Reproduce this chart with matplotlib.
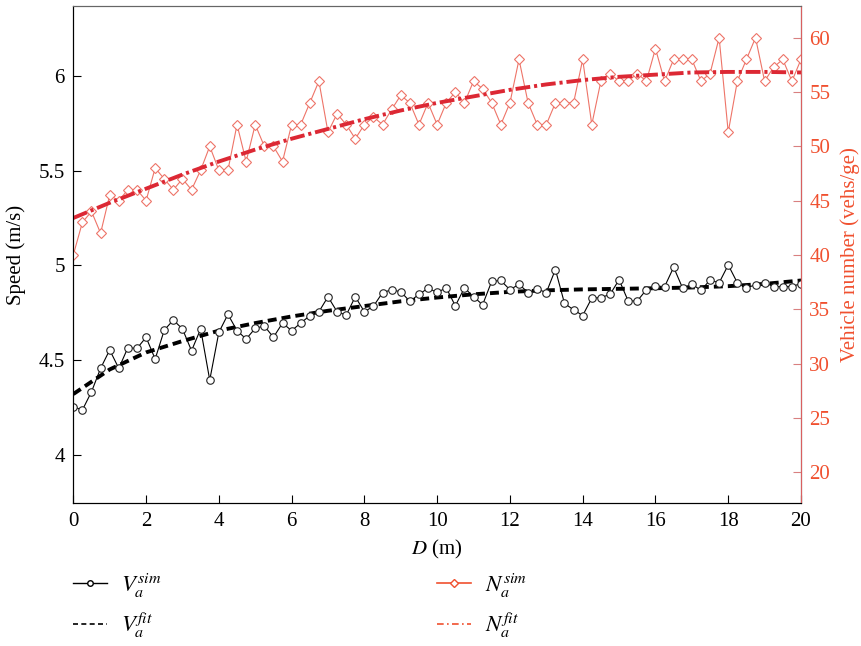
import numpy as np
import matplotlib
matplotlib.use("Agg")
import matplotlib.pyplot as plt
from matplotlib.lines import Line2D
from matplotlib.ticker import FuncFormatter

# distance D (m), one sample every 0.25 m
distance = np.arange(0, 20.001, 0.25)

# simulated average speed (m/s)
speed_sim = [4.253, 4.236, 4.332, 4.456, 4.553, 4.456, 4.565, 4.561, 4.620, 4.505,
             4.658, 4.711, 4.664, 4.549, 4.664, 4.394, 4.646, 4.741, 4.655, 4.611,
             4.667, 4.680, 4.620, 4.695, 4.655, 4.695, 4.734, 4.755, 4.834, 4.755,
             4.737, 4.834, 4.755, 4.784, 4.856, 4.871, 4.860, 4.810, 4.847, 4.879,
             4.857, 4.881, 4.786, 4.881, 4.834, 4.792, 4.916, 4.920, 4.871, 4.900,
             4.856, 4.875, 4.856, 4.978, 4.799, 4.765, 4.735, 4.827, 4.830, 4.846,
             4.924, 4.812, 4.812, 4.871, 4.892, 4.887, 4.990, 4.878, 4.901, 4.868,
             4.922, 4.908, 5.002, 4.908, 4.880, 4.898, 4.908, 4.888, 4.888, 4.888,
             4.904]

# simulated vehicle number (vehs/ge)
veh_sim = [40.0, 43.0, 44.0, 42.0, 45.5, 45.0, 46.0, 46.0, 45.0, 48.0,
           47.0, 46.0, 47.0, 46.0, 47.8, 50.0, 47.8, 47.8, 52.0, 48.6,
           52.0, 50.0, 50.0, 48.6, 52.0, 52.0, 54.0, 56.0, 51.3, 53.0,
           52.0, 50.7, 52.0, 52.7, 52.0, 53.4, 54.7, 54.0, 52.0, 54.0,
           52.0, 54.0, 55.0, 54.0, 56.0, 55.3, 54.0, 52.0, 54.0, 58.0,
           54.0, 52.0, 52.0, 54.0, 54.0, 54.0, 58.0, 52.0, 56.0, 56.7,
           56.0, 56.0, 56.7, 56.0, 59.0, 56.0, 58.0, 58.0, 58.0, 56.0,
           56.7, 60.0, 51.3, 56.0, 58.0, 60.0, 56.0, 57.3, 58.0, 56.0,
           58.0]

# fitted curves, read every 1 m
fit_d = list(range(0, 21))
speed_fit = [4.32, 4.45, 4.54, 4.60, 4.655, 4.695, 4.73, 4.76, 4.785, 4.81, 4.83,
             4.847, 4.86, 4.868, 4.873, 4.876, 4.879, 4.883, 4.89, 4.902, 4.92]
veh_fit = [43.4, 44.8, 46.1, 47.4, 48.6, 49.7, 50.7, 51.6, 52.5, 53.3, 54.0,
           54.6, 55.2, 55.7, 56.1, 56.4, 56.6, 56.8, 56.85, 56.85, 56.8]

red_txt = '#f0502f'
red_line = '#ee7468'
red_fit = '#dc2834'

plt.rcParams['font.family'] = ['Liberation Serif', 'DejaVu Serif']
plt.rcParams['mathtext.fontset'] = 'stix'

fig = plt.figure(figsize=(8.62, 6.46), dpi=100)
ax = fig.add_axes([73.3 / 862, 1 - 503.3 / 646, (801 - 73.3) / 862, (503.3 - 6) / 646])

ax.plot(fit_d, speed_fit, color='black', lw=2.8, dashes=(2.3, 1.3), zorder=2)
ax.plot(distance, speed_sim, color='black', lw=0.8, marker='o', ms=5.4,
        mfc='white', mec='#222222', mew=0.8, zorder=3)

ax.set_xlim(0, 20)
ax.set_ylim(3.743, 6.37)
ax.set_xticks(range(0, 21, 2))
ax.set_yticks([4, 4.5, 5, 5.5, 6])
ax.yaxis.set_major_formatter(FuncFormatter(lambda v, p: '%g' % v))
ax.tick_params(direction='in', length=6, width=0.8, labelsize=15, pad=6)
ax.set_xlabel(r'$D$ (m)', fontsize=15, labelpad=5)
ax.set_ylabel('Speed (m/s)', fontsize=15, labelpad=9)
ax.spines['top'].set_color('#666666')

ax2 = ax.twinx()
ax2.plot(distance, veh_sim, color=red_line, lw=0.8, marker='D', ms=5,
         mfc='white', mec=red_line, mew=0.8)
ax2.plot(fit_d, veh_fit, color=red_fit, lw=2.8, linestyle=(0, (3.8, 1.0, 0.8, 1.0)))
ax2.set_ylim(17.13, 62.92)
ax2.set_yticks(range(20, 61, 5))
ax2.tick_params(axis='y', direction='in', length=6, width=0.8, labelsize=15,
                colors='#d98080', labelcolor=red_txt, pad=6)
ax2.set_ylabel('Vehicle number (vehs/ge)', fontsize=15, color=red_txt, labelpad=7)
ax2.spines['right'].set_color('#d96060')
ax2.spines['top'].set_color('#666666')

# legend below the plot, two columns
h_vsim = Line2D([], [], color='black', lw=1.0, marker='o', ms=4, mfc='white', mec='black')
h_vfit = Line2D([], [], color='black', lw=1.2, dashes=(3, 2))
h_nsim = Line2D([], [], color=red_txt, lw=1.2, marker='D', ms=4, mfc='white', mec=red_txt)
h_nfit = Line2D([], [], color=red_txt, lw=1.2, linestyle=(0, (4, 2, 1, 2)))

leg_kw = dict(loc='upper left', frameon=False, fontsize=16.5, handlelength=1.5,
              handletextpad=0.6, borderpad=0, borderaxespad=0, labelspacing=0.5)
fig.legend([h_vsim, h_vfit], [r'$V_a^{sim}$', r'$V_a^{fit}$'],
           bbox_to_anchor=(73 / 862, 1 - 571 / 646), **leg_kw)
fig.legend([h_nsim, h_nfit], [r'$N_a^{sim}$', r'$N_a^{fit}$'],
           bbox_to_anchor=(437 / 862, 1 - 571 / 646), **leg_kw)

fig.savefig('out.png', dpi=100)
